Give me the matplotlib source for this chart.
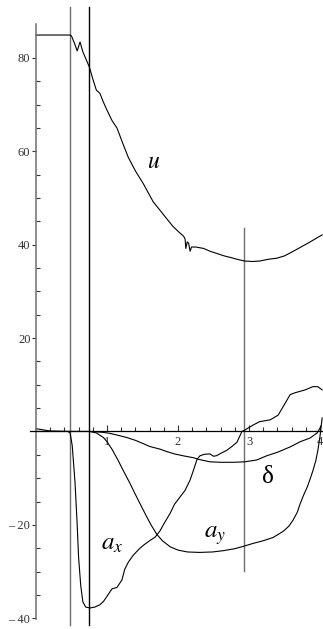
import matplotlib
matplotlib.use("Agg")
import matplotlib.pyplot as plt
from matplotlib.ticker import FixedLocator, FuncFormatter

plt.rcParams['font.family'] = 'serif'
plt.rcParams['font.serif'] = ['Liberation Serif', 'DejaVu Serif']
plt.rcParams['mathtext.fontset'] = 'stix'

# speed u
u_t = [0.0, 0.48, 0.50, 0.55, 0.58, 0.62, 0.66, 0.75, 0.80, 0.85, 0.90, 0.95, 1.00, 1.07,
       1.14, 1.23, 1.30, 1.40, 1.51, 1.65, 1.75, 1.85, 1.93, 2.02, 2.08, 2.10, 2.11, 2.13,
       2.15, 2.17, 2.19, 2.25, 2.36, 2.45, 2.55, 2.65, 2.73, 2.85, 2.94, 3.05, 3.15, 3.28,
       3.39, 3.50, 3.60, 3.72, 3.85, 3.95, 4.03]
u_v = [84.9, 84.9, 84.7, 82.8, 81.5, 83.4, 81.3, 78.1, 75.5, 73.1, 72.4, 70.5, 68.8, 66.6,
       65.0, 61.4, 58.7, 55.8, 53.1, 49.2, 47.3, 45.4, 43.9, 42.6, 41.8, 41.2, 39.2, 40.6,
       40.3, 38.6, 39.5, 39.5, 39.2, 38.6, 38.1, 37.6, 37.3, 36.8, 36.5, 36.4, 36.5, 36.9,
       37.1, 37.6, 38.4, 39.4, 40.5, 41.4, 42.1]

# steering delta
d_t = [0.0, 0.8, 0.95, 1.04, 1.15, 1.28, 1.40, 1.51, 1.60, 1.75, 1.84, 1.95, 2.07, 2.21,
       2.30, 2.45, 2.60, 2.78, 2.94, 3.11, 3.25, 3.41, 3.58, 3.72, 3.86, 3.96, 4.01]
d_v = [0.0, 0.0, -0.2, -0.4, -0.8, -1.3, -1.9, -2.6, -3.2, -3.8, -4.3, -4.8, -5.2, -5.6,
       -6.0, -6.5, -6.6, -6.6, -6.5, -6.1, -5.2, -4.4, -3.3, -2.2, -1.4, -0.3, 1.0]

# longitudinal acceleration a_x
ax_t = [0.0, 0.08, 0.2, 0.45, 0.48, 0.51, 0.53, 0.55, 0.58, 0.60, 0.63, 0.66, 0.70, 0.76,
        0.83, 0.90, 0.95, 1.00, 1.07, 1.14, 1.21, 1.25, 1.30, 1.37, 1.45, 1.51, 1.60, 1.68,
        1.75, 1.80, 1.89, 1.95, 2.03, 2.10, 2.17, 2.22, 2.27, 2.31, 2.37, 2.45, 2.50, 2.54,
        2.60, 2.69, 2.76, 2.83, 2.90, 2.94, 3.06, 3.15, 3.30, 3.41, 3.48, 3.58, 3.65, 3.79,
        3.90, 3.97, 4.03]
ax_v = [0.6, 0.4, 0.1, 0.0, -0.3, -3.0, -7.0, -11.0, -20.0, -27.0, -33.0, -36.5, -37.6, -37.8,
        -37.6, -37.1, -36.4, -35.3, -33.7, -33.4, -31.8, -29.5, -28.0, -26.5, -25.2, -24.4,
        -23.4, -22.6, -21.2, -19.8, -17.5, -15.6, -14.0, -12.6, -10.4, -8.2, -5.9, -5.2, -4.9,
        -4.8, -5.3, -5.2, -4.7, -4.0, -3.2, -2.3, 0.0, 0.3, 1.4, 2.1, 2.5, 3.5, 5.3, 7.9, 8.3,
        8.9, 9.6, 9.6, 8.9]

# lateral acceleration a_y
ay_t = [0.0, 0.75, 0.85, 0.95, 1.00, 1.07, 1.15, 1.23, 1.32, 1.40, 1.49, 1.55, 1.62, 1.70,
        1.78, 1.89, 2.00, 2.13, 2.30, 2.49, 2.65, 2.80, 2.92, 3.05, 3.20, 3.34, 3.48, 3.56,
        3.62, 3.68, 3.72, 3.77, 3.82, 3.86, 3.90, 3.94, 3.97, 4.00, 4.03]
ay_v = [0.0, 0.0, -0.3, -1.3, -2.2, -3.8, -6.0, -8.4, -11.0, -13.5, -16.2, -18.0, -20.0, -22.0,
        -23.4, -24.7, -25.4, -25.8, -25.9, -25.8, -25.5, -25.1, -24.6, -24.0, -23.4, -22.7,
        -21.4, -20.3, -19.0, -17.3, -15.5, -13.6, -11.9, -10.2, -8.4, -6.3, -4.0, -1.0, 2.9]

# markers: (time, bottom, top, colour)
vlines = [(0.48, -41.5, 90.9, '#6e6e6e'), (0.746, -41.5, 90.9, 'black'), (2.93, -29.8, 43.5, '#6e6e6e')]

x_major = [1, 2, 3, 4]
x_minor = [i / 5 for i in range(1, 21) if i % 5]
y_major = [-40, -20, 20, 40, 60, 80]
y_minor = [v for v in range(-35, 80, 5) if v % 20]

fig = plt.figure(figsize=(3.23, 6.29), dpi=100)
ax = fig.add_axes([0, 0, 1, 1])
ax.set_xlim(-0.507, 4.042)
ax.set_ylim(-42.3, 92.4)

for t, lo, hi, c in vlines:
    ax.plot([t, t], [lo, hi], color=c, lw=1.0)

for tt, vv in [(u_t, u_v), (d_t, d_v), (ax_t, ax_v), (ay_t, ay_v)]:
    ax.plot(tt, vv, color='black', lw=0.8)

ax.text(1.65, 57.5, '$u$', fontsize=17, ha='center', va='center')
ax.text(3.27, -9.7, 'δ', fontsize=18, ha='center', va='center')
ax.text(1.07, -24.0, '$a_x$', fontsize=18, ha='center', va='center')
ax.text(2.52, -22.2, '$a_y$', fontsize=18, ha='center', va='center')

for s in ['top', 'right']:
    ax.spines[s].set_visible(False)
ax.spines['left'].set_position(('data', 0))
ax.spines['bottom'].set_position(('data', 0))
ax.spines['left'].set_color('#6e6e6e')
ax.spines['left'].set_linewidth(1.1)
ax.spines['bottom'].set_linewidth(0.9)
ax.spines['left'].set_bounds(-40.2, 87.2)
ax.spines['bottom'].set_bounds(-0.085, 4.042)

ax.xaxis.set_major_locator(FixedLocator(x_major))
ax.xaxis.set_minor_locator(FixedLocator(x_minor))
ax.yaxis.set_major_locator(FixedLocator(y_major))
ax.yaxis.set_minor_locator(FixedLocator(y_minor))
ax.yaxis.set_major_formatter(FuncFormatter(lambda v, p: f'\u2013 {abs(v):.0f}' if v < 0 else f'{v:.0f}'))

ax.tick_params(axis='x', which='major', direction='in', length=4, width=0.8, labelsize=9, pad=3, colors='#333333')
ax.tick_params(axis='x', which='minor', direction='in', length=3, width=0.8, colors='#333333')
ax.tick_params(axis='y', which='major', direction='out', length=3, width=0.8, labelsize=9, pad=1, colors='#333333')
ax.tick_params(axis='y', which='minor', direction='in', length=3, width=0.8, colors='#333333')

fig.savefig('out.png', dpi=100)
